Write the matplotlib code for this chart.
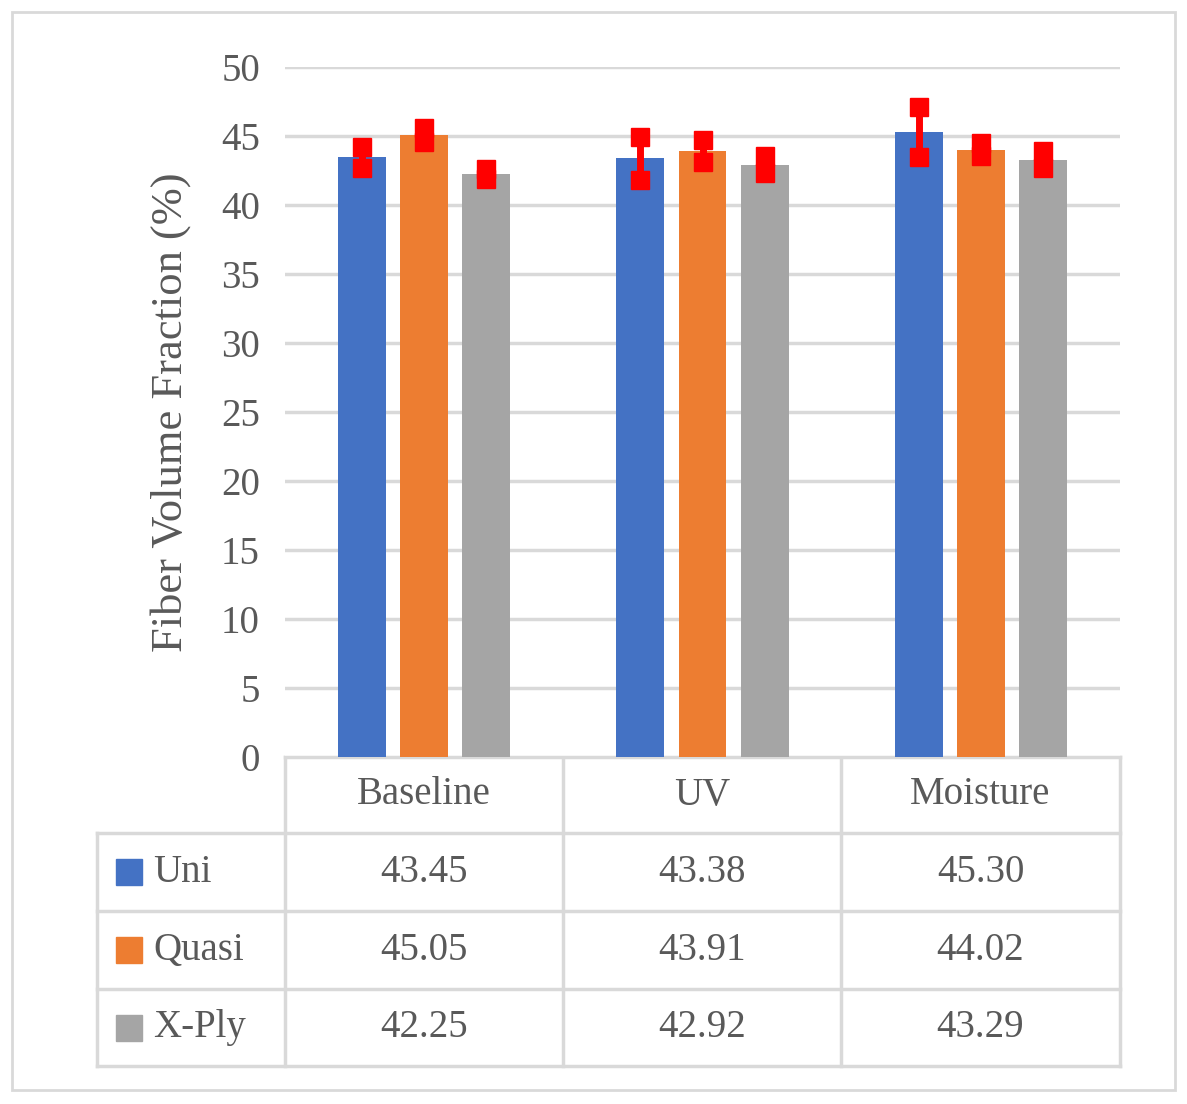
import matplotlib.pyplot as plt
import numpy as np

categories = ["Baseline", "UV", "Moisture"]
series = ["Uni", "Quasi", "X-Ply"]
values = {
    "Uni": [43.45, 43.38, 45.30],
    "Quasi": [45.05, 43.91, 44.02],
    "X-Ply": [42.25, 42.92, 43.29],
}
errors = {
    "Uni": [0.75, 1.55, 1.8],
    "Quasi": [0.5, 0.8, 0.45],
    "X-Ply": [0.33, 0.6, 0.6],
}
colors = {"Uni": "#4472C4", "Quasi": "#ED7D31", "X-Ply": "#A5A5A5"}

plt.rcParams['font.family'] = ['Liberation Serif', 'DejaVu Serif']
txt = "#595959"
grid = "#D9D9D9"

fig = plt.figure(figsize=(11.87, 11.04), dpi=100)
ax = fig.add_axes([285/1187, 1 - 757/1104, 835/1187, 690/1104])
x = np.arange(len(categories))
offsets = [-0.223, 0, 0.223]
for s, off in zip(series, offsets):
    ax.bar(x + off, values[s], width=0.172, color=colors[s], zorder=2)
    ax.errorbar(x + off, values[s], yerr=errors[s], fmt='none', ecolor='red',
                elinewidth=5, capsize=0, zorder=3)
    for xi, v, e in zip(x + off, values[s], errors[s]):
        ax.plot([xi, xi], [v - e, v + e], ls='none', marker='s', ms=13,
                color='red', zorder=4)
ax.set_xlim(-0.5, 2.5)
ax.set_ylim(0, 50)
ax.set_yticks(range(0, 51, 5))
ax.tick_params(axis='y', length=0, labelsize=28, colors=txt, pad=18)
ax.set_xticks([])
ax.yaxis.grid(True, color=grid, lw=2.5, zorder=0)
for sp in ax.spines.values():
    sp.set_visible(False)
ax.set_ylabel("Fiber Volume Fraction (%)", fontsize=32, color=txt, labelpad=22)

# table overlay in pixel coordinates
ov = fig.add_axes([0, 0, 1, 1], zorder=-1)
ov.set_xlim(0, 1187)
ov.set_ylim(1104, 0)
ov.axis('off')
lc = "#D9D9D9"
cols = [97, 285, 563, 841, 1120]
rows = [757, 833, 911, 989, 1066]
ov.plot([285, 1120], [757, 757], color=lc, lw=2.5)
for r in rows[1:]:
    ov.plot([97, 1120], [r, r], color=lc, lw=2.5)
for i, c in enumerate(cols):
    ov.plot([c, c], [rows[0] if i > 0 else rows[1], rows[-1]], color=lc, lw=2.5)
for j, cat in enumerate(categories):
    ov.text((cols[j+1] + cols[j+2]) / 2, (rows[0] + rows[1]) / 2, cat,
            ha='center', va='center', fontsize=28, color=txt)
for i, s in enumerate(series):
    yc = (rows[i+1] + rows[i+2]) / 2
    ov.add_patch(plt.Rectangle((116, yc - 13), 26, 26, color=colors[s]))
    ov.text(153, yc, s, ha='left', va='center', fontsize=28, color=txt)
    for j in range(3):
        ov.text((cols[j+1] + cols[j+2]) / 2, yc, f"{values[s][j]:.2f}",
                ha='center', va='center', fontsize=28, color=txt)
ov.add_patch(plt.Rectangle((12, 12), 1163, 1078, fill=False, ec=lc, lw=2))

fig.savefig("out.png", dpi=100)
